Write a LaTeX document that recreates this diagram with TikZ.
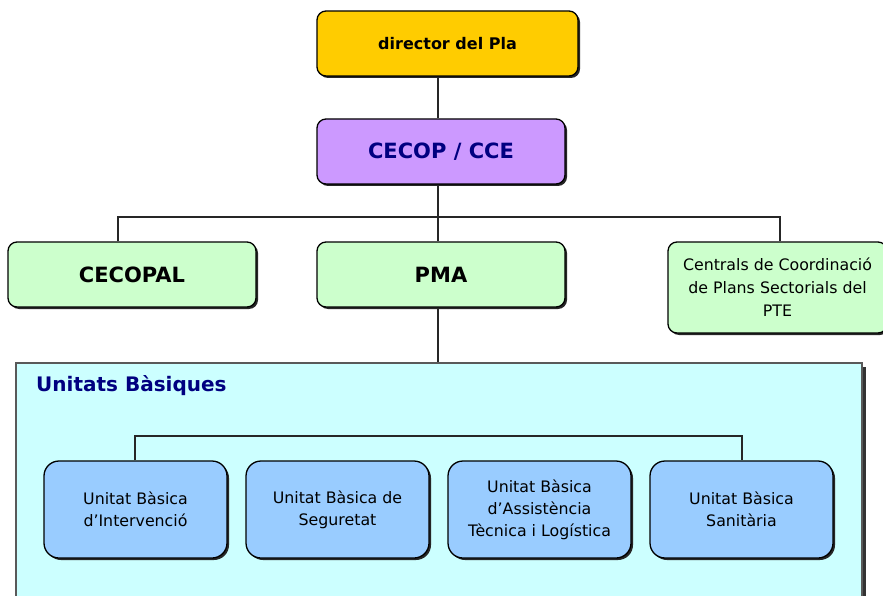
\documentclass[tikz,border=0pt]{standalone}
\usepackage{fontspec}
\setmainfont{DejaVu Sans}
\usetikzlibrary{shadows}
\definecolor{cyellow}{HTML}{FFCC00}
\definecolor{cviolet}{HTML}{CC99FF}
\definecolor{cgreen}{HTML}{CCFFCC}
\definecolor{ccyan}{HTML}{CCFFFF}
\definecolor{cblue}{HTML}{99CCFF}
\definecolor{cnavy}{HTML}{000080}
\tikzset{
  box/.style={draw=black, line width=1.3pt, rounded corners=9pt, inner sep=0pt, align=center,
    drop shadow={shadow xshift=2pt, shadow yshift=-2pt, fill=black!85, opacity=1}},
  ubox/.style={box, fill=cblue, rounded corners=15pt, minimum width=183pt, minimum height=97pt,
    font=\fontsize{15.8}{22}\selectfont},
  conn/.style={draw=black!85, line width=1.3pt},
}
\begin{document}
\begin{tikzpicture}[x=1pt,y=-1pt]
\useasboundingbox (0,0) rectangle (883,596);
\begin{scope}
\clip (0,0) rectangle (883,596);
% big container
\node[draw=black!65, line width=1.5pt, fill=ccyan, minimum width=846pt, minimum height=260pt, inner sep=0pt,
  drop shadow={shadow xshift=4pt, shadow yshift=-4pt, fill=black!80, opacity=1}]
  (ub) at (439,493) {};
\node[anchor=west, inner sep=0pt, text=cnavy, font=\bfseries\fontsize{20}{22}\selectfont] (ubt) at (36,386) {Unitats Bàsiques};

\node[box, fill=cyellow, minimum width=261pt, minimum height=65pt, font=\bfseries\fontsize{16}{18}\selectfont,
  drop shadow={shadow xshift=1pt, shadow yshift=-1pt, fill=black!85, opacity=1}]
  (dir) at (447.5,43.5) {director del Pla};
\node[box, fill=cviolet, minimum width=248pt, minimum height=65pt, text=cnavy,
  font=\bfseries\fontsize{21}{24}\selectfont] (cecop) at (441,151.5) {CECOP / CCE};
\node[box, fill=cgreen, minimum width=248pt, minimum height=65pt, font=\bfseries\fontsize{21}{24}\selectfont]
  (cecopal) at (132,274.5) {CECOPAL};
\node[box, fill=cgreen, minimum width=248pt, minimum height=65pt, font=\bfseries\fontsize{21}{24}\selectfont]
  (pma) at (441,274.5) {PMA};
\node[box, fill=cgreen, minimum width=219pt, minimum height=91pt, font=\fontsize{15.8}{23}\selectfont]
  (cent) at (777.5,287.5) {Centrals de Coordinació\\de Plans Sectorials del\\PTE};

\node[ubox] (u1) at (135.5,509.5) {Unitat Bàsica\\d’Intervenció};
\node[ubox] (u2) at (337.5,509.5) {Unitat Bàsica de\\Seguretat};
\node[ubox] (u3) at (539.5,509.5) {Unitat Bàsica\\d’Assistència\\Tècnica i Logística};
\node[ubox] (u4) at (741.5,509.5) {Unitat Bàsica\\Sanitària};

% connectors
\coordinate (j1) at (438,217);
\coordinate (j2) at (438,436);
\draw[conn] (dir.south -| j1) -- (cecop.north -| j1);
\draw[conn] (cecop.south -| j1) -- (j1);
\draw[conn] (cecopal.north -| 118,0) |- (j1) -| (cent.north -| 780,0);
\draw[conn] (j1) -- (pma.north -| j1);
\draw[conn] (pma.south -| j1) -- (ub.north -| j1);
\draw[conn] (u1.north -| 135,0) |- (j2) -| (u4.north -| 742,0);
\draw[conn] (u2.north -| 337,0) -- (u2.north -| 337,436);
\draw[conn] (u3.north -| 487,0) -- (u3.north -| 487,436);
\end{scope}
\end{tikzpicture}
\end{document}
